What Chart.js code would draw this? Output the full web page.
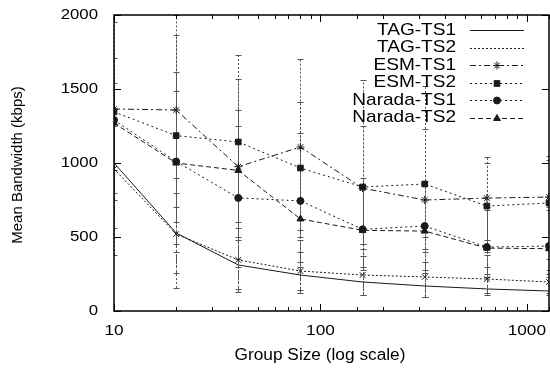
<!DOCTYPE html>
<html>
<head>
<meta charset="utf-8">
<script src="https://cdn.jsdelivr.net/npm/chart.js@4/dist/chart.umd.min.js"></script>
<style>
  html, body { margin: 0; padding: 0; background: #fff; }
  #wrap { width: 550px; height: 371px; }
</style>
</head>
<body>
<div id="wrap"><canvas id="bwChart" width="550" height="371"></canvas></div>
<script>
// group sizes (x, log scale)
var groupSizes = [10, 20, 40, 80, 160, 320, 640, 1280];
var xTickLabels = [10, 100, 1000];
var yTickValues = [0, 500, 1000, 1500, 2000];

// mean bandwidth (kbps)
var tagTs1 = [1000, 527, 311, 243, 196, 169, 149, 135];
var tagTs2 = [960, 520, 345, 270, 243, 230, 216, 196];
var esmTs1 = [1365, 1358, 975, 1108, 830, 750, 763, 770];
var esmTs2 = [1345, 1185, 1142, 966, 838, 858, 709, 730];
var naradaTs1 = [1290, 1010, 764, 744, 552, 574, 432, 439];
var naradaTs2 = [1270, 1000, 950, 622, 545, 540, 425, 421];

// error bar ranges
var tagTs1Low = [560, 257, 150, 140, 108, 95, 122, 120];
var tagTs1High = [1250, 800, 480, 400, 370, 330, 300, 280];
var tagTs2Low = [378, 155, 128, 122, 108, 95, 110, 110];
var tagTs2High = [1300, 900, 560, 480, 420, 400, 380, 350];
var esmTs1Low = [1000, 700, 500, 550, 450, 420, 480, 500];
var esmTs1High = [1950, 2000, 1730, 1703, 1560, 1520, 1040, 1050];
var esmTs2Low = [950, 600, 600, 500, 450, 500, 400, 420];
var esmTs2High = [1710, 1865, 1568, 1412, 1250, 1230, 1000, 1020];
var naradaTs1Low = [800, 450, 350, 330, 300, 280, 250, 250];
var naradaTs1High = [1540, 1615, 1358, 1200, 900, 880, 700, 700];
var naradaTs2Low = [750, 400, 300, 300, 280, 260, 230, 230];
var naradaTs2High = [1500, 1486, 1250, 1100, 850, 850, 680, 680];

function pts(ys) {
    return groupSizes.map(function(x, i) { return { x: x, y: ys[i] }; });
}

var FONT = "'Liberation Sans', Arial, sans-serif";
var INK = '#1a1a1a';

function series(label, ys, lo, hi, dash, style, radius, keyPoint) {
    return {
        label: label,
        data: pts(ys),
        errLow: lo,
        errHigh: hi,
        keyPoint: keyPoint,
        borderColor: INK,
        backgroundColor: INK,
        borderWidth: 1,
        borderDash: dash,
        pointStyle: style,
        pointRadius: radius,
        pointBorderWidth: 1,
        pointBorderColor: INK,
        pointBackgroundColor: INK,
        tension: 0,
        fill: false
    };
}

// the original eps was stretched sideways, so text is drawn a bit wider
function wideText(ctx, txt, x, y, size, sx, align) {
    ctx.save();
    ctx.font = size + 'px ' + FONT;
    ctx.textBaseline = 'middle';
    ctx.textAlign = align;
    ctx.translate(x, y);
    ctx.scale(sx, 1);
    ctx.fillText(txt, 0, 0);
    ctx.restore();
}

// error bars, drawn under the lines
var errorBars = {
    id: 'errorBars',
    beforeDatasetsDraw: function(chart) {
        var ctx = chart.ctx, xs = chart.scales.x, ys = chart.scales.y, a = chart.chartArea;
        ctx.save();
        ctx.beginPath();
        ctx.rect(a.left, a.top, a.right - a.left, a.bottom - a.top);
        ctx.clip();
        ctx.strokeStyle = '#555';
        ctx.lineWidth = 1;
        chart.data.datasets.forEach(function(ds) {
            var dash = ds.borderDash && ds.borderDash.length ? [2, 2] : [3, 2];
            groupSizes.forEach(function(g, i) {
                var px = Math.round(xs.getPixelForValue(g)) + 0.5;
                var pl = ys.getPixelForValue(ds.errLow[i]);
                var ph = ys.getPixelForValue(ds.errHigh[i]);
                ctx.setLineDash(dash);
                ctx.beginPath();
                ctx.moveTo(px, pl);
                ctx.lineTo(px, ph);
                ctx.stroke();
                ctx.setLineDash([]);
                ctx.beginPath();
                ctx.moveTo(px - 3, Math.round(pl) + 0.5); ctx.lineTo(px + 3, Math.round(pl) + 0.5);
                ctx.moveTo(px - 3, Math.round(ph) + 0.5); ctx.lineTo(px + 3, Math.round(ph) + 0.5);
                ctx.stroke();
            });
        });
        ctx.restore();
    }
};

// gnuplot style frame with inward ticks, tick labels, titles and the key
var frameAndKey = {
    id: 'frameAndKey',
    afterDraw: function(chart) {
        var ctx = chart.ctx, a = chart.chartArea, xs = chart.scales.x, ys = chart.scales.y;
        ctx.save();
        ctx.strokeStyle = '#000';
        ctx.lineWidth = 1.5;
        ctx.setLineDash([]);
        ctx.strokeRect(a.left, a.top, a.right - a.left, a.bottom - a.top);

        ctx.lineWidth = 1;
        ctx.beginPath();
        xs.ticks.forEach(function(t) {
            var v = t.value;
            if (v > 1280) return;
            var major = xTickLabels.indexOf(v) >= 0;
            var len = major ? 7 : 4;
            var px = Math.round(xs.getPixelForValue(v)) + 0.5;
            ctx.moveTo(px, a.bottom); ctx.lineTo(px, a.bottom - len);
            ctx.moveTo(px, a.top); ctx.lineTo(px, a.top + len);
        });
        yTickValues.forEach(function(v) {
            var py = Math.round(ys.getPixelForValue(v)) + 0.5;
            ctx.moveTo(a.left, py); ctx.lineTo(a.left + 7, py);
            ctx.moveTo(a.right, py); ctx.lineTo(a.right - 7, py);
        });
        ctx.stroke();

        ctx.fillStyle = '#000';
        // tick labels
        yTickValues.forEach(function(v) {
            wideText(ctx, String(v), a.left - 16, ys.getPixelForValue(v), 15, 1.12, 'right');
        });
        xTickLabels.forEach(function(v) {
            wideText(ctx, String(v), xs.getPixelForValue(v), a.bottom + 20, 15, 1.15, 'center');
        });
        // axis titles
        wideText(ctx, 'Group Size (log scale)', 320, a.bottom + 45, 16, 1.08, 'center');
        ctx.save();
        ctx.translate(18, (a.top + a.bottom) / 2 + 2);
        ctx.rotate(-Math.PI / 2);
        ctx.font = '15px ' + FONT;
        ctx.textAlign = 'center';
        ctx.textBaseline = 'middle';
        ctx.fillText('Mean Bandwidth (kbps)', 0, 0);
        ctx.restore();

        // key
        chart.data.datasets.forEach(function(ds, i) {
            var y = a.top + 15 + i * 17.5;
            ctx.fillStyle = '#000';
            wideText(ctx, ds.label, 456, y, 17, 1.12, 'right');
            ctx.strokeStyle = INK;
            ctx.lineWidth = 1;
            ctx.setLineDash(ds.borderDash);
            ctx.beginPath();
            ctx.moveTo(470, Math.round(y) + 0.5);
            ctx.lineTo(524, Math.round(y) + 0.5);
            ctx.stroke();
            ctx.setLineDash([]);
            if (ds.keyPoint) {
                ctx.fillStyle = INK;
                ctx.strokeStyle = INK;
                Chart.helpers.drawPoint(ctx, {
                    pointStyle: ds.pointStyle, radius: ds.pointRadius, rotation: 0, borderWidth: 1
                }, 497, Math.round(y) + 0.5);
            }
        });
        ctx.restore();
    }
};

var ctxB = document.getElementById('bwChart').getContext('2d');
var bwChart = new Chart(ctxB, {
    type: 'line',
    data: {
        datasets: [
            series('TAG-TS1', tagTs1, tagTs1Low, tagTs1High, [], 'circle', 0, false),
            series('TAG-TS2', tagTs2, tagTs2Low, tagTs2High, [2, 2], 'crossRot', 4, false),
            series('ESM-TS1', esmTs1, esmTs1Low, esmTs1High, [6, 3, 2, 3], 'star', 4, true),
            series('ESM-TS2', esmTs2, esmTs2Low, esmTs2High, [2, 3], 'rect', 4, true),
            series('Narada-TS1', naradaTs1, naradaTs1Low, naradaTs1High, [2, 3], 'circle', 3.5, true),
            series('Narada-TS2', naradaTs2, naradaTs2Low, naradaTs2High, [5, 3], 'triangle', 4, true)
        ]
    },
    options: {
        responsive: false,
        animation: false,
        layout: { autoPadding: false, padding: { top: 15, right: 1, left: 0, bottom: 0 } },
        plugins: { legend: { display: false }, tooltip: { enabled: false } },
        scales: {
            x: {
                type: 'logarithmic',
                min: 10,
                max: 1280,
                grid: { display: false, drawTicks: false },
                border: { display: false },
                afterFit: function(s) { s.height = 60; },
                ticks: { display: false, autoSkip: false }
            },
            y: {
                min: 0,
                max: 2000,
                grid: { display: false, drawTicks: false },
                border: { display: false },
                afterFit: function(s) { s.width = 114; },
                ticks: { display: false, stepSize: 500 }
            }
        }
    },
    plugins: [errorBars, frameAndKey]
});
</script>
</body>
</html>
